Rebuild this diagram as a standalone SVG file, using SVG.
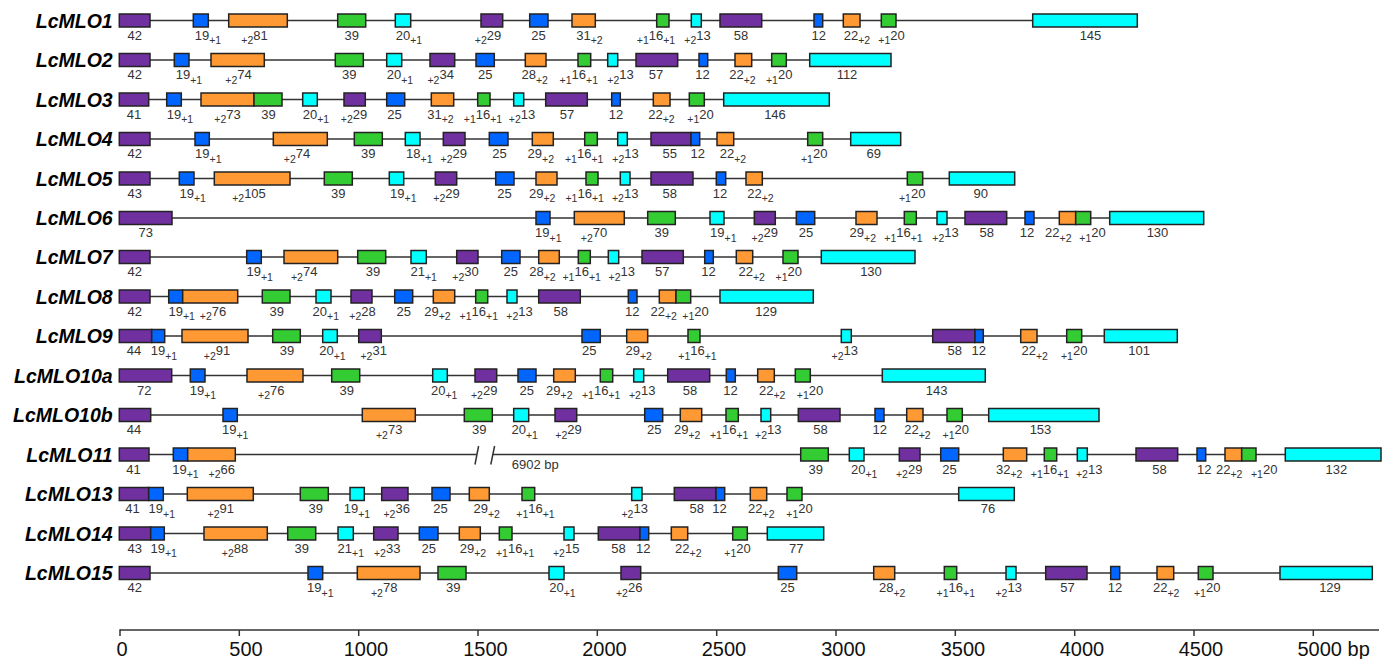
<svg xmlns="http://www.w3.org/2000/svg" width="1388" height="659" viewBox="0 0 1388 659">
<style>
text{font-family:"Liberation Sans",Arial,sans-serif}
.L text,text.t{font-size:13px;fill:#333;text-anchor:middle}
.L .n{font-style:italic;font-weight:bold;font-size:19.5px;text-anchor:end;fill:#000}
.s{font-size:10.5px}
rect{stroke:#222;stroke-width:1.5}
.p{fill:#7030A0}.b{fill:#0066FF}.o{fill:#FF9933}.g{fill:#33CC33}.c{fill:#00FFFF}
.ln line{stroke:#333;stroke-width:1.5}
.ax{font-size:20px;fill:#111;text-anchor:middle}
</style>
<rect width="1388" height="659" style="fill:#fff;stroke:none"/>
<g id="connectors" class="ln">
<line x1="119.3" y1="20.5" x2="1137.3" y2="20.5"/>
<line x1="119.3" y1="60" x2="891" y2="60"/>
<line x1="119.3" y1="99.5" x2="829.3" y2="99.5"/>
<line x1="119.3" y1="139" x2="900.7" y2="139"/>
<line x1="119.3" y1="178.5" x2="1014.7" y2="178.5"/>
<line x1="119.3" y1="218" x2="1203.7" y2="218"/>
<line x1="119.3" y1="257" x2="915" y2="257"/>
<line x1="119.3" y1="296.5" x2="813.3" y2="296.5"/>
<line x1="119.3" y1="336" x2="1177.3" y2="336"/>
<line x1="119.3" y1="375.5" x2="985.3" y2="375.5"/>
<line x1="119.3" y1="415" x2="1099" y2="415"/>
<line x1="119.3" y1="454.5" x2="476.6" y2="454.5"/>
<line x1="492.6" y1="454.5" x2="1381" y2="454.5"/>
<line x1="475" y1="464.5" x2="478.6" y2="446"/>
<line x1="490.8" y1="464.5" x2="494.6" y2="446"/>
<line x1="119.3" y1="494" x2="1014.3" y2="494"/>
<line x1="119.3" y1="533.5" x2="823.7" y2="533.5"/>
<line x1="119.3" y1="573" x2="1372.3" y2="573"/>
</g>

<g id="LcMLO1" class="L">
<text class="n" x="112.7" y="27.5">LcMLO1</text>
<rect class="p" x="119.3" y="14" width="30.7" height="13"/>
<rect class="b" x="193.3" y="14" width="15" height="13"/>
<rect class="o" x="228.7" y="14" width="58.6" height="13"/>
<rect class="g" x="337.7" y="14" width="28" height="13"/>
<rect class="c" x="395.3" y="14" width="15.4" height="13"/>
<rect class="p" x="481" y="14" width="21.7" height="13"/>
<rect class="b" x="529.7" y="14" width="18.3" height="13"/>
<rect class="o" x="572" y="14" width="23.3" height="13"/>
<rect class="g" x="656.7" y="14" width="12.3" height="13"/>
<rect class="c" x="691.3" y="14" width="10" height="13"/>
<rect class="p" x="720" y="14" width="41.7" height="13"/>
<rect class="b" x="814" y="14" width="8.7" height="13"/>
<rect class="o" x="843.3" y="14" width="16.7" height="13"/>
<rect class="g" x="881.3" y="14" width="14.7" height="13"/>
<rect class="c" x="1032.7" y="14" width="104.6" height="13"/>
<text x="134.7" y="39.5">42</text>
<text x="208" y="39.5">19<tspan class="s" dy="4.5">+1</tspan></text>
<text x="254.5" y="39.5"><tspan class="s" dy="4.5">+2</tspan><tspan dy="-4.5">81</tspan></text>
<text x="351.7" y="39.5">39</text>
<text x="409" y="39.5">20<tspan class="s" dy="4.5">+1</tspan></text>
<text x="488" y="39.5"><tspan class="s" dy="4.5">+2</tspan><tspan dy="-4.5">29</tspan></text>
<text x="538.5" y="39.5">25</text>
<text x="589.5" y="39.5">31<tspan class="s" dy="4.5">+2</tspan></text>
<text x="656" y="39.5"><tspan class="s" dy="4.5">+1</tspan><tspan dy="-4.5">16</tspan><tspan class="s" dy="4.5">+1</tspan></text>
<text x="697.5" y="39.5"><tspan class="s" dy="4.5">+2</tspan><tspan dy="-4.5">13</tspan></text>
<text x="741" y="39.5">58</text>
<text x="818.8" y="39.5">12</text>
<text x="857" y="39.5">22<tspan class="s" dy="4.5">+2</tspan></text>
<text x="891.5" y="39.5"><tspan class="s" dy="4.5">+1</tspan><tspan dy="-4.5">20</tspan></text>
<text x="1090.5" y="39.5">145</text>
</g>

<g id="LcMLO2" class="L">
<text class="n" x="112.7" y="67">LcMLO2</text>
<rect class="p" x="119.3" y="53.5" width="30.7" height="13"/>
<rect class="b" x="174.3" y="53.5" width="14.7" height="13"/>
<rect class="o" x="211" y="53.5" width="53.3" height="13"/>
<rect class="g" x="335.3" y="53.5" width="28" height="13"/>
<rect class="c" x="386.7" y="53.5" width="15" height="13"/>
<rect class="p" x="430" y="53.5" width="24.7" height="13"/>
<rect class="b" x="476" y="53.5" width="18.3" height="13"/>
<rect class="o" x="525.3" y="53.5" width="20.7" height="13"/>
<rect class="g" x="578" y="53.5" width="12.7" height="13"/>
<rect class="c" x="607.7" y="53.5" width="10" height="13"/>
<rect class="p" x="636" y="53.5" width="41.7" height="13"/>
<rect class="b" x="699" y="53.5" width="8.7" height="13"/>
<rect class="o" x="735" y="53.5" width="16.7" height="13"/>
<rect class="g" x="771.7" y="53.5" width="14.6" height="13"/>
<rect class="c" x="809.7" y="53.5" width="81.3" height="13"/>
<text x="134.7" y="79">42</text>
<text x="189" y="79">19<tspan class="s" dy="4.5">+1</tspan></text>
<text x="238.5" y="79"><tspan class="s" dy="4.5">+2</tspan><tspan dy="-4.5">74</tspan></text>
<text x="349.3" y="79">39</text>
<text x="400" y="79">20<tspan class="s" dy="4.5">+1</tspan></text>
<text x="440.7" y="79"><tspan class="s" dy="4.5">+2</tspan><tspan dy="-4.5">34</tspan></text>
<text x="485.3" y="79">25</text>
<text x="534.7" y="79">28<tspan class="s" dy="4.5">+2</tspan></text>
<text x="578.8" y="79"><tspan class="s" dy="4.5">+1</tspan><tspan dy="-4.5">16</tspan><tspan class="s" dy="4.5">+1</tspan></text>
<text x="620.5" y="79"><tspan class="s" dy="4.5">+2</tspan><tspan dy="-4.5">13</tspan></text>
<text x="656" y="79">57</text>
<text x="702.5" y="79">12</text>
<text x="742.5" y="79">22<tspan class="s" dy="4.5">+2</tspan></text>
<text x="779.2" y="79"><tspan class="s" dy="4.5">+1</tspan><tspan dy="-4.5">20</tspan></text>
<text x="847" y="79">112</text>
</g>

<g id="LcMLO3" class="L">
<text class="n" x="112.7" y="106.5">LcMLO3</text>
<rect class="p" x="119.3" y="93" width="29.4" height="13"/>
<rect class="b" x="166.7" y="93" width="14.6" height="13"/>
<rect class="o" x="201" y="93" width="53" height="13"/>
<rect class="g" x="254" y="93" width="28" height="13"/>
<rect class="c" x="302.7" y="93" width="14.6" height="13"/>
<rect class="p" x="344" y="93" width="21.3" height="13"/>
<rect class="b" x="386.7" y="93" width="18" height="13"/>
<rect class="o" x="431.3" y="93" width="22.4" height="13"/>
<rect class="g" x="477.7" y="93" width="12.3" height="13"/>
<rect class="c" x="513.7" y="93" width="10" height="13"/>
<rect class="p" x="545.7" y="93" width="41.6" height="13"/>
<rect class="b" x="611.7" y="93" width="8.6" height="13"/>
<rect class="o" x="653.3" y="93" width="16.7" height="13"/>
<rect class="g" x="689.3" y="93" width="15" height="13"/>
<rect class="c" x="723.7" y="93" width="105.6" height="13"/>
<text x="134" y="118.5">41</text>
<text x="180" y="118.5">19<tspan class="s" dy="4.5">+1</tspan></text>
<text x="227.5" y="118.5"><tspan class="s" dy="4.5">+2</tspan><tspan dy="-4.5">73</tspan></text>
<text x="268.5" y="118.5">39</text>
<text x="316" y="118.5">20<tspan class="s" dy="4.5">+1</tspan></text>
<text x="354" y="118.5"><tspan class="s" dy="4.5">+2</tspan><tspan dy="-4.5">29</tspan></text>
<text x="394.5" y="118.5">25</text>
<text x="440.5" y="118.5">31<tspan class="s" dy="4.5">+2</tspan></text>
<text x="483" y="118.5"><tspan class="s" dy="4.5">+1</tspan><tspan dy="-4.5">16</tspan><tspan class="s" dy="4.5">+1</tspan></text>
<text x="522" y="118.5"><tspan class="s" dy="4.5">+2</tspan><tspan dy="-4.5">13</tspan></text>
<text x="567" y="118.5">57</text>
<text x="616" y="118.5">12</text>
<text x="661.5" y="118.5">22<tspan class="s" dy="4.5">+2</tspan></text>
<text x="700.5" y="118.5"><tspan class="s" dy="4.5">+1</tspan><tspan dy="-4.5">20</tspan></text>
<text x="775" y="118.5">146</text>
</g>

<g id="LcMLO4" class="L">
<text class="n" x="112.7" y="146">LcMLO4</text>
<rect class="p" x="119.3" y="132.5" width="30.7" height="13"/>
<rect class="b" x="195" y="132.5" width="14.3" height="13"/>
<rect class="o" x="273.3" y="132.5" width="54" height="13"/>
<rect class="g" x="354.3" y="132.5" width="28" height="13"/>
<rect class="c" x="405.3" y="132.5" width="14.7" height="13"/>
<rect class="p" x="443.3" y="132.5" width="21.7" height="13"/>
<rect class="b" x="489.3" y="132.5" width="18.7" height="13"/>
<rect class="o" x="532.3" y="132.5" width="21" height="13"/>
<rect class="g" x="584.7" y="132.5" width="12.6" height="13"/>
<rect class="c" x="617.7" y="132.5" width="9.6" height="13"/>
<rect class="p" x="651" y="132.5" width="40" height="13"/>
<rect class="b" x="691" y="132.5" width="8.7" height="13"/>
<rect class="o" x="717" y="132.5" width="16.7" height="13"/>
<rect class="g" x="807.7" y="132.5" width="15" height="13"/>
<rect class="c" x="850.7" y="132.5" width="50" height="13"/>
<text x="134.7" y="158">42</text>
<text x="208.3" y="158">19<tspan class="s" dy="4.5">+1</tspan></text>
<text x="297" y="158"><tspan class="s" dy="4.5">+2</tspan><tspan dy="-4.5">74</tspan></text>
<text x="368.3" y="158">39</text>
<text x="419.3" y="158">18<tspan class="s" dy="4.5">+1</tspan></text>
<text x="453.8" y="158"><tspan class="s" dy="4.5">+2</tspan><tspan dy="-4.5">29</tspan></text>
<text x="499.5" y="158">25</text>
<text x="540.8" y="158">29<tspan class="s" dy="4.5">+2</tspan></text>
<text x="584.2" y="158"><tspan class="s" dy="4.5">+1</tspan><tspan dy="-4.5">16</tspan><tspan class="s" dy="4.5">+1</tspan></text>
<text x="625.5" y="158"><tspan class="s" dy="4.5">+2</tspan><tspan dy="-4.5">13</tspan></text>
<text x="669.8" y="158">55</text>
<text x="697.8" y="158">12</text>
<text x="733" y="158">22<tspan class="s" dy="4.5">+2</tspan></text>
<text x="814.2" y="158"><tspan class="s" dy="4.5">+1</tspan><tspan dy="-4.5">20</tspan></text>
<text x="873.7" y="158">69</text>
</g>

<g id="LcMLO5" class="L">
<text class="n" x="112.7" y="185.5">LcMLO5</text>
<rect class="p" x="119.3" y="172" width="30.7" height="13"/>
<rect class="b" x="179.3" y="172" width="14.7" height="13"/>
<rect class="o" x="214.3" y="172" width="75.7" height="13"/>
<rect class="g" x="324.3" y="172" width="28" height="13"/>
<rect class="c" x="389.3" y="172" width="14.4" height="13"/>
<rect class="p" x="435.3" y="172" width="21.4" height="13"/>
<rect class="b" x="495.7" y="172" width="18.3" height="13"/>
<rect class="o" x="536" y="172" width="21" height="13"/>
<rect class="g" x="586" y="172" width="12" height="13"/>
<rect class="c" x="620.3" y="172" width="9.7" height="13"/>
<rect class="p" x="651" y="172" width="42" height="13"/>
<rect class="b" x="716.3" y="172" width="9.4" height="13"/>
<rect class="o" x="746" y="172" width="16.3" height="13"/>
<rect class="g" x="907.3" y="172" width="15.4" height="13"/>
<rect class="c" x="949.3" y="172" width="65.4" height="13"/>
<text x="134.7" y="197.5">43</text>
<text x="192.7" y="197.5">19<tspan class="s" dy="4.5">+1</tspan></text>
<text x="249" y="197.5"><tspan class="s" dy="4.5">+2</tspan><tspan dy="-4.5">105</tspan></text>
<text x="338.3" y="197.5">39</text>
<text x="403.3" y="197.5">19<tspan class="s" dy="4.5">+1</tspan></text>
<text x="446.5" y="197.5"><tspan class="s" dy="4.5">+2</tspan><tspan dy="-4.5">29</tspan></text>
<text x="504.5" y="197.5">25</text>
<text x="542.2" y="197.5">29<tspan class="s" dy="4.5">+2</tspan></text>
<text x="584.7" y="197.5"><tspan class="s" dy="4.5">+1</tspan><tspan dy="-4.5">16</tspan><tspan class="s" dy="4.5">+1</tspan></text>
<text x="625.2" y="197.5"><tspan class="s" dy="4.5">+2</tspan><tspan dy="-4.5">13</tspan></text>
<text x="669.7" y="197.5">58</text>
<text x="720" y="197.5">12</text>
<text x="760.5" y="197.5">22<tspan class="s" dy="4.5">+2</tspan></text>
<text x="912.2" y="197.5"><tspan class="s" dy="4.5">+1</tspan><tspan dy="-4.5">20</tspan></text>
<text x="980.8" y="197.5">90</text>
</g>

<g id="LcMLO6" class="L">
<text class="n" x="112.7" y="225">LcMLO6</text>
<rect class="p" x="119.3" y="211.5" width="52.7" height="13"/>
<rect class="b" x="536" y="211.5" width="14" height="13"/>
<rect class="o" x="574.3" y="211.5" width="50" height="13"/>
<rect class="g" x="647.7" y="211.5" width="27.6" height="13"/>
<rect class="c" x="710" y="211.5" width="14" height="13"/>
<rect class="p" x="754.3" y="211.5" width="21" height="13"/>
<rect class="b" x="796.3" y="211.5" width="18.4" height="13"/>
<rect class="o" x="856" y="211.5" width="21" height="13"/>
<rect class="g" x="904.3" y="211.5" width="12" height="13"/>
<rect class="c" x="937" y="211.5" width="10" height="13"/>
<rect class="p" x="965" y="211.5" width="41.7" height="13"/>
<rect class="b" x="1025" y="211.5" width="9" height="13"/>
<rect class="o" x="1059.3" y="211.5" width="16.4" height="13"/>
<rect class="g" x="1075.7" y="211.5" width="15" height="13"/>
<rect class="c" x="1109.7" y="211.5" width="94" height="13"/>
<text x="145.7" y="237">73</text>
<text x="548.3" y="237">19<tspan class="s" dy="4.5">+1</tspan></text>
<text x="594" y="237"><tspan class="s" dy="4.5">+2</tspan><tspan dy="-4.5">70</tspan></text>
<text x="661.8" y="237">39</text>
<text x="723.3" y="237">19<tspan class="s" dy="4.5">+1</tspan></text>
<text x="764.8" y="237"><tspan class="s" dy="4.5">+2</tspan><tspan dy="-4.5">29</tspan></text>
<text x="806" y="237">25</text>
<text x="862.8" y="237">29<tspan class="s" dy="4.5">+2</tspan></text>
<text x="903.5" y="237"><tspan class="s" dy="4.5">+1</tspan><tspan dy="-4.5">16</tspan><tspan class="s" dy="4.5">+1</tspan></text>
<text x="945.5" y="237"><tspan class="s" dy="4.5">+2</tspan><tspan dy="-4.5">13</tspan></text>
<text x="986.7" y="237">58</text>
<text x="1027" y="237">12</text>
<text x="1058.3" y="237">22<tspan class="s" dy="4.5">+2</tspan></text>
<text x="1092.5" y="237"><tspan class="s" dy="4.5">+1</tspan><tspan dy="-4.5">20</tspan></text>
<text x="1157.5" y="237">130</text>
</g>

<g id="LcMLO7" class="L">
<text class="n" x="112.7" y="264">LcMLO7</text>
<rect class="p" x="119.3" y="250.5" width="30.7" height="13"/>
<rect class="b" x="246.7" y="250.5" width="14.6" height="13"/>
<rect class="o" x="284" y="250.5" width="53.7" height="13"/>
<rect class="g" x="357.7" y="250.5" width="28" height="13"/>
<rect class="c" x="411" y="250.5" width="15.3" height="13"/>
<rect class="p" x="456.7" y="250.5" width="21.3" height="13"/>
<rect class="b" x="501.7" y="250.5" width="18.3" height="13"/>
<rect class="o" x="538.7" y="250.5" width="20.6" height="13"/>
<rect class="g" x="578.3" y="250.5" width="12" height="13"/>
<rect class="c" x="608.3" y="250.5" width="10.4" height="13"/>
<rect class="p" x="642" y="250.5" width="41.3" height="13"/>
<rect class="b" x="704.7" y="250.5" width="8.6" height="13"/>
<rect class="o" x="736.3" y="250.5" width="16.4" height="13"/>
<rect class="g" x="783" y="250.5" width="15" height="13"/>
<rect class="c" x="821.3" y="250.5" width="93.7" height="13"/>
<text x="134.7" y="276">42</text>
<text x="259.7" y="276">19<tspan class="s" dy="4.5">+1</tspan></text>
<text x="304.2" y="276"><tspan class="s" dy="4.5">+2</tspan><tspan dy="-4.5">74</tspan></text>
<text x="373" y="276">39</text>
<text x="423.7" y="276">21<tspan class="s" dy="4.5">+1</tspan></text>
<text x="465.5" y="276"><tspan class="s" dy="4.5">+2</tspan><tspan dy="-4.5">30</tspan></text>
<text x="510.8" y="276">25</text>
<text x="542.5" y="276">28<tspan class="s" dy="4.5">+2</tspan></text>
<text x="581.7" y="276"><tspan class="s" dy="4.5">+1</tspan><tspan dy="-4.5">16</tspan><tspan class="s" dy="4.5">+1</tspan></text>
<text x="621.8" y="276"><tspan class="s" dy="4.5">+2</tspan><tspan dy="-4.5">13</tspan></text>
<text x="662.2" y="276">57</text>
<text x="708.5" y="276">12</text>
<text x="751.7" y="276">22<tspan class="s" dy="4.5">+2</tspan></text>
<text x="788.8" y="276"><tspan class="s" dy="4.5">+1</tspan><tspan dy="-4.5">20</tspan></text>
<text x="871" y="276">130</text>
</g>

<g id="LcMLO8" class="L">
<text class="n" x="112.7" y="303.5">LcMLO8</text>
<rect class="p" x="119.3" y="290" width="30.7" height="13"/>
<rect class="b" x="168.7" y="290" width="14" height="13"/>
<rect class="o" x="182.7" y="290" width="55" height="13"/>
<rect class="g" x="262.3" y="290" width="27.7" height="13"/>
<rect class="c" x="316" y="290" width="15" height="13"/>
<rect class="p" x="351" y="290" width="21" height="13"/>
<rect class="b" x="394.7" y="290" width="18" height="13"/>
<rect class="o" x="433.3" y="290" width="21.4" height="13"/>
<rect class="g" x="475.7" y="290" width="12" height="13"/>
<rect class="c" x="507" y="290" width="10" height="13"/>
<rect class="p" x="538.7" y="290" width="41.6" height="13"/>
<rect class="b" x="628.3" y="290" width="8.7" height="13"/>
<rect class="o" x="659.3" y="290" width="16.7" height="13"/>
<rect class="g" x="676" y="290" width="14.7" height="13"/>
<rect class="c" x="720" y="290" width="93.3" height="13"/>
<text x="134.7" y="315.5">42</text>
<text x="181.7" y="315.5">19<tspan class="s" dy="4.5">+1</tspan></text>
<text x="213" y="315.5"><tspan class="s" dy="4.5">+2</tspan><tspan dy="-4.5">76</tspan></text>
<text x="276.7" y="315.5">39</text>
<text x="325.8" y="315.5">20<tspan class="s" dy="4.5">+1</tspan></text>
<text x="362.5" y="315.5"><tspan class="s" dy="4.5">+2</tspan><tspan dy="-4.5">28</tspan></text>
<text x="403.8" y="315.5">25</text>
<text x="437.5" y="315.5">29<tspan class="s" dy="4.5">+2</tspan></text>
<text x="478.8" y="315.5"><tspan class="s" dy="4.5">+1</tspan><tspan dy="-4.5">16</tspan><tspan class="s" dy="4.5">+1</tspan></text>
<text x="519.5" y="315.5"><tspan class="s" dy="4.5">+2</tspan><tspan dy="-4.5">13</tspan></text>
<text x="560.8" y="315.5">58</text>
<text x="632.2" y="315.5">12</text>
<text x="663.7" y="315.5">22<tspan class="s" dy="4.5">+2</tspan></text>
<text x="695.5" y="315.5"><tspan class="s" dy="4.5">+1</tspan><tspan dy="-4.5">20</tspan></text>
<text x="766.2" y="315.5">129</text>
</g>

<g id="LcMLO9" class="L">
<text class="n" x="112.7" y="343">LcMLO9</text>
<rect class="p" x="119.3" y="329.5" width="32.4" height="13"/>
<rect class="b" x="151.7" y="329.5" width="13" height="13"/>
<rect class="o" x="182" y="329.5" width="66" height="13"/>
<rect class="g" x="272.7" y="329.5" width="27.6" height="13"/>
<rect class="c" x="322.7" y="329.5" width="14.6" height="13"/>
<rect class="p" x="358.7" y="329.5" width="22.6" height="13"/>
<rect class="b" x="582" y="329.5" width="18.3" height="13"/>
<rect class="o" x="626.7" y="329.5" width="21" height="13"/>
<rect class="g" x="688" y="329.5" width="12" height="13"/>
<rect class="c" x="841.3" y="329.5" width="10" height="13"/>
<rect class="p" x="932.7" y="329.5" width="42.3" height="13"/>
<rect class="b" x="975" y="329.5" width="8.3" height="13"/>
<rect class="o" x="1020.7" y="329.5" width="16.3" height="13"/>
<rect class="g" x="1066.7" y="329.5" width="15" height="13"/>
<rect class="c" x="1104.3" y="329.5" width="73" height="13"/>
<text x="134" y="355">44</text>
<text x="164" y="355">19<tspan class="s" dy="4.5">+1</tspan></text>
<text x="217" y="355"><tspan class="s" dy="4.5">+2</tspan><tspan dy="-4.5">91</tspan></text>
<text x="287" y="355">39</text>
<text x="332.5" y="355">20<tspan class="s" dy="4.5">+1</tspan></text>
<text x="373.7" y="355"><tspan class="s" dy="4.5">+2</tspan><tspan dy="-4.5">31</tspan></text>
<text x="589.2" y="355">25</text>
<text x="638.7" y="355">29<tspan class="s" dy="4.5">+2</tspan></text>
<text x="697.5" y="355"><tspan class="s" dy="4.5">+1</tspan><tspan dy="-4.5">16</tspan><tspan class="s" dy="4.5">+1</tspan></text>
<text x="844.8" y="355"><tspan class="s" dy="4.5">+2</tspan><tspan dy="-4.5">13</tspan></text>
<text x="954.7" y="355">58</text>
<text x="978.8" y="355">12</text>
<text x="1034.7" y="355">22<tspan class="s" dy="4.5">+2</tspan></text>
<text x="1074.2" y="355"><tspan class="s" dy="4.5">+1</tspan><tspan dy="-4.5">20</tspan></text>
<text x="1139.2" y="355">101</text>
</g>

<g id="LcMLO10a" class="L">
<text class="n" x="112.7" y="382.5">LcMLO10a</text>
<rect class="p" x="119.3" y="369" width="52.4" height="13"/>
<rect class="b" x="190.3" y="369" width="14.7" height="13"/>
<rect class="o" x="247" y="369" width="56" height="13"/>
<rect class="g" x="331.7" y="369" width="28" height="13"/>
<rect class="c" x="432.7" y="369" width="14.6" height="13"/>
<rect class="p" x="475" y="369" width="21.7" height="13"/>
<rect class="b" x="518" y="369" width="18" height="13"/>
<rect class="o" x="553.7" y="369" width="21.6" height="13"/>
<rect class="g" x="600.3" y="369" width="12.4" height="13"/>
<rect class="c" x="633.7" y="369" width="10" height="13"/>
<rect class="p" x="667.7" y="369" width="42" height="13"/>
<rect class="b" x="726.3" y="369" width="9" height="13"/>
<rect class="o" x="757.7" y="369" width="16.6" height="13"/>
<rect class="g" x="795.3" y="369" width="15" height="13"/>
<rect class="c" x="882.3" y="369" width="103" height="13"/>
<text x="144.2" y="394.5">72</text>
<text x="203" y="394.5">19<tspan class="s" dy="4.5">+1</tspan></text>
<text x="271.3" y="394.5"><tspan class="s" dy="4.5">+2</tspan><tspan dy="-4.5">76</tspan></text>
<text x="346.8" y="394.5">39</text>
<text x="444.2" y="394.5">20<tspan class="s" dy="4.5">+1</tspan></text>
<text x="484.2" y="394.5"><tspan class="s" dy="4.5">+2</tspan><tspan dy="-4.5">29</tspan></text>
<text x="526.7" y="394.5">25</text>
<text x="559.3" y="394.5">29<tspan class="s" dy="4.5">+2</tspan></text>
<text x="601.2" y="394.5"><tspan class="s" dy="4.5">+1</tspan><tspan dy="-4.5">16</tspan><tspan class="s" dy="4.5">+1</tspan></text>
<text x="642.2" y="394.5"><tspan class="s" dy="4.5">+2</tspan><tspan dy="-4.5">13</tspan></text>
<text x="690" y="394.5">58</text>
<text x="730.5" y="394.5">12</text>
<text x="772.2" y="394.5">22<tspan class="s" dy="4.5">+2</tspan></text>
<text x="810" y="394.5"><tspan class="s" dy="4.5">+1</tspan><tspan dy="-4.5">20</tspan></text>
<text x="936.7" y="394.5">143</text>
</g>

<g id="LcMLO10b" class="L">
<text class="n" x="112.7" y="422">LcMLO10b</text>
<rect class="p" x="119.3" y="408.5" width="31.4" height="13"/>
<rect class="b" x="223" y="408.5" width="14.3" height="13"/>
<rect class="o" x="362.3" y="408.5" width="53" height="13"/>
<rect class="g" x="464.3" y="408.5" width="28" height="13"/>
<rect class="c" x="513.7" y="408.5" width="15" height="13"/>
<rect class="p" x="555" y="408.5" width="21.7" height="13"/>
<rect class="b" x="644.7" y="408.5" width="18" height="13"/>
<rect class="o" x="680.3" y="408.5" width="21.4" height="13"/>
<rect class="g" x="726" y="408.5" width="12.3" height="13"/>
<rect class="c" x="761" y="408.5" width="9.7" height="13"/>
<rect class="p" x="798.3" y="408.5" width="41.7" height="13"/>
<rect class="b" x="875" y="408.5" width="9" height="13"/>
<rect class="o" x="906.7" y="408.5" width="16.3" height="13"/>
<rect class="g" x="947" y="408.5" width="15.3" height="13"/>
<rect class="c" x="988.7" y="408.5" width="110.3" height="13"/>
<text x="134" y="434">44</text>
<text x="235.2" y="434">19<tspan class="s" dy="4.5">+1</tspan></text>
<text x="389.2" y="434"><tspan class="s" dy="4.5">+2</tspan><tspan dy="-4.5">73</tspan></text>
<text x="479.2" y="434">39</text>
<text x="524.7" y="434">20<tspan class="s" dy="4.5">+1</tspan></text>
<text x="568.5" y="434"><tspan class="s" dy="4.5">+2</tspan><tspan dy="-4.5">29</tspan></text>
<text x="654.2" y="434">25</text>
<text x="687.2" y="434">29<tspan class="s" dy="4.5">+2</tspan></text>
<text x="729.2" y="434"><tspan class="s" dy="4.5">+1</tspan><tspan dy="-4.5">16</tspan><tspan class="s" dy="4.5">+1</tspan></text>
<text x="768.3" y="434"><tspan class="s" dy="4.5">+2</tspan><tspan dy="-4.5">13</tspan></text>
<text x="820.5" y="434">58</text>
<text x="879.7" y="434">12</text>
<text x="917.5" y="434">22<tspan class="s" dy="4.5">+2</tspan></text>
<text x="955.8" y="434"><tspan class="s" dy="4.5">+1</tspan><tspan dy="-4.5">20</tspan></text>
<text x="1040.5" y="434">153</text>
</g>

<g id="LcMLO11" class="L">
<text class="n" x="112.7" y="461.5">LcMLO11</text>
<rect class="p" x="119.3" y="448" width="29.7" height="13"/>
<rect class="b" x="173.3" y="448" width="14.4" height="13"/>
<rect class="o" x="187.7" y="448" width="47.6" height="13"/>
<rect class="g" x="800.7" y="448" width="27.6" height="13"/>
<rect class="c" x="849.3" y="448" width="14.7" height="13"/>
<rect class="p" x="899.3" y="448" width="20.7" height="13"/>
<rect class="b" x="940.7" y="448" width="18" height="13"/>
<rect class="o" x="1003.3" y="448" width="23.4" height="13"/>
<rect class="g" x="1044.3" y="448" width="12.4" height="13"/>
<rect class="c" x="1077.3" y="448" width="10" height="13"/>
<rect class="p" x="1136" y="448" width="41.7" height="13"/>
<rect class="b" x="1197" y="448" width="8.7" height="13"/>
<rect class="o" x="1225" y="448" width="16.7" height="13"/>
<rect class="g" x="1241.7" y="448" width="14.3" height="13"/>
<rect class="c" x="1285.3" y="448" width="95.7" height="13"/>
<text x="133.5" y="473.5">41</text>
<text x="185.5" y="473.5">19<tspan class="s" dy="4.5">+1</tspan></text>
<text x="221.8" y="473.5"><tspan class="s" dy="4.5">+2</tspan><tspan dy="-4.5">66</tspan></text>
<text x="511.7" y="468.5" style="text-anchor:start">6902 bp</text>
<text x="815.8" y="473.5">39</text>
<text x="864.2" y="473.5">20<tspan class="s" dy="4.5">+1</tspan></text>
<text x="909.2" y="473.5"><tspan class="s" dy="4.5">+2</tspan><tspan dy="-4.5">29</tspan></text>
<text x="949.5" y="473.5">25</text>
<text x="1009.2" y="473.5">32<tspan class="s" dy="4.5">+2</tspan></text>
<text x="1050" y="473.5"><tspan class="s" dy="4.5">+1</tspan><tspan dy="-4.5">16</tspan><tspan class="s" dy="4.5">+1</tspan></text>
<text x="1089.2" y="473.5"><tspan class="s" dy="4.5">+2</tspan><tspan dy="-4.5">13</tspan></text>
<text x="1159.5" y="473.5">58</text>
<text x="1204.3" y="473.5">12</text>
<text x="1229.2" y="473.5">22<tspan class="s" dy="4.5">+2</tspan></text>
<text x="1264.2" y="473.5"><tspan class="s" dy="4.5">+1</tspan><tspan dy="-4.5">20</tspan></text>
<text x="1336.3" y="473.5">132</text>
</g>

<g id="LcMLO13" class="L">
<text class="n" x="112.7" y="501">LcMLO13</text>
<rect class="p" x="119.3" y="487.5" width="29.4" height="13"/>
<rect class="b" x="148.7" y="487.5" width="14.6" height="13"/>
<rect class="o" x="187.3" y="487.5" width="66" height="13"/>
<rect class="g" x="300.3" y="487.5" width="28" height="13"/>
<rect class="c" x="350" y="487.5" width="14.3" height="13"/>
<rect class="p" x="381.7" y="487.5" width="26.3" height="13"/>
<rect class="b" x="432" y="487.5" width="18" height="13"/>
<rect class="o" x="469.3" y="487.5" width="20" height="13"/>
<rect class="g" x="522" y="487.5" width="12.7" height="13"/>
<rect class="c" x="631.7" y="487.5" width="10.3" height="13"/>
<rect class="p" x="674.3" y="487.5" width="41.7" height="13"/>
<rect class="b" x="716" y="487.5" width="8.7" height="13"/>
<rect class="o" x="750.3" y="487.5" width="16.4" height="13"/>
<rect class="g" x="787" y="487.5" width="15" height="13"/>
<rect class="c" x="958.7" y="487.5" width="55.6" height="13"/>
<text x="132.5" y="513">41</text>
<text x="161.8" y="513">19<tspan class="s" dy="4.5">+1</tspan></text>
<text x="220.8" y="513"><tspan class="s" dy="4.5">+2</tspan><tspan dy="-4.5">91</tspan></text>
<text x="315.8" y="513">39</text>
<text x="357" y="513">19<tspan class="s" dy="4.5">+1</tspan></text>
<text x="396.7" y="513"><tspan class="s" dy="4.5">+2</tspan><tspan dy="-4.5">36</tspan></text>
<text x="440.5" y="513">25</text>
<text x="486.7" y="513">29<tspan class="s" dy="4.5">+2</tspan></text>
<text x="535.5" y="513"><tspan class="s" dy="4.5">+1</tspan><tspan dy="-4.5">16</tspan><tspan class="s" dy="4.5">+1</tspan></text>
<text x="634.7" y="513"><tspan class="s" dy="4.5">+2</tspan><tspan dy="-4.5">13</tspan></text>
<text x="696.7" y="513">58</text>
<text x="719.5" y="513">12</text>
<text x="761.3" y="513">22<tspan class="s" dy="4.5">+2</tspan></text>
<text x="799.5" y="513"><tspan class="s" dy="4.5">+1</tspan><tspan dy="-4.5">20</tspan></text>
<text x="988" y="513">76</text>
</g>

<g id="LcMLO14" class="L">
<text class="n" x="112.7" y="540.5">LcMLO14</text>
<rect class="p" x="119.3" y="527" width="31.4" height="13"/>
<rect class="b" x="150.7" y="527" width="13.6" height="13"/>
<rect class="o" x="204" y="527" width="63.3" height="13"/>
<rect class="g" x="287.7" y="527" width="28" height="13"/>
<rect class="c" x="338" y="527" width="15.3" height="13"/>
<rect class="p" x="373.7" y="527" width="24.3" height="13"/>
<rect class="b" x="419.3" y="527" width="18.7" height="13"/>
<rect class="o" x="459.3" y="527" width="21" height="13"/>
<rect class="g" x="499.3" y="527" width="12.7" height="13"/>
<rect class="c" x="564" y="527" width="10" height="13"/>
<rect class="p" x="598.3" y="527" width="41.7" height="13"/>
<rect class="b" x="640" y="527" width="8.7" height="13"/>
<rect class="o" x="671.3" y="527" width="16.4" height="13"/>
<rect class="g" x="732.7" y="527" width="14.6" height="13"/>
<rect class="c" x="767.3" y="527" width="56.4" height="13"/>
<text x="134.7" y="552.5">43</text>
<text x="163.7" y="552.5">19<tspan class="s" dy="4.5">+1</tspan></text>
<text x="235" y="552.5"><tspan class="s" dy="4.5">+2</tspan><tspan dy="-4.5">88</tspan></text>
<text x="301.8" y="552.5">39</text>
<text x="350.8" y="552.5">21<tspan class="s" dy="4.5">+1</tspan></text>
<text x="387.2" y="552.5"><tspan class="s" dy="4.5">+2</tspan><tspan dy="-4.5">33</tspan></text>
<text x="428.7" y="552.5">25</text>
<text x="473" y="552.5">29<tspan class="s" dy="4.5">+2</tspan></text>
<text x="515.2" y="552.5"><tspan class="s" dy="4.5">+1</tspan><tspan dy="-4.5">16</tspan><tspan class="s" dy="4.5">+1</tspan></text>
<text x="566.2" y="552.5"><tspan class="s" dy="4.5">+2</tspan><tspan dy="-4.5">15</tspan></text>
<text x="618.5" y="552.5">58</text>
<text x="643.3" y="552.5">12</text>
<text x="688.3" y="552.5">22<tspan class="s" dy="4.5">+2</tspan></text>
<text x="737.5" y="552.5"><tspan class="s" dy="4.5">+1</tspan><tspan dy="-4.5">20</tspan></text>
<text x="796.3" y="552.5">77</text>
</g>

<g id="LcMLO15" class="L">
<text class="n" x="112.7" y="580">LcMLO15</text>
<rect class="p" x="119.3" y="566.5" width="30.7" height="13"/>
<rect class="b" x="308" y="566.5" width="14.7" height="13"/>
<rect class="o" x="357.3" y="566.5" width="62.7" height="13"/>
<rect class="g" x="438" y="566.5" width="28" height="13"/>
<rect class="c" x="549" y="566.5" width="15" height="13"/>
<rect class="p" x="621" y="566.5" width="19.7" height="13"/>
<rect class="b" x="778.3" y="566.5" width="18.4" height="13"/>
<rect class="o" x="873.7" y="566.5" width="21" height="13"/>
<rect class="g" x="944.3" y="566.5" width="12.4" height="13"/>
<rect class="c" x="1006" y="566.5" width="10" height="13"/>
<rect class="p" x="1045.7" y="566.5" width="41.3" height="13"/>
<rect class="b" x="1110.7" y="566.5" width="9" height="13"/>
<rect class="o" x="1157" y="566.5" width="16.7" height="13"/>
<rect class="g" x="1198.3" y="566.5" width="14.7" height="13"/>
<rect class="c" x="1280" y="566.5" width="92.3" height="13"/>
<text x="134.7" y="592">42</text>
<text x="320.3" y="592">19<tspan class="s" dy="4.5">+1</tspan></text>
<text x="384.2" y="592"><tspan class="s" dy="4.5">+2</tspan><tspan dy="-4.5">78</tspan></text>
<text x="453.3" y="592">39</text>
<text x="562.5" y="592">20<tspan class="s" dy="4.5">+1</tspan></text>
<text x="629.2" y="592"><tspan class="s" dy="4.5">+2</tspan><tspan dy="-4.5">26</tspan></text>
<text x="787.5" y="592">25</text>
<text x="892.2" y="592">28<tspan class="s" dy="4.5">+2</tspan></text>
<text x="955.8" y="592"><tspan class="s" dy="4.5">+1</tspan><tspan dy="-4.5">16</tspan><tspan class="s" dy="4.5">+1</tspan></text>
<text x="1008.7" y="592"><tspan class="s" dy="4.5">+2</tspan><tspan dy="-4.5">13</tspan></text>
<text x="1067.5" y="592">57</text>
<text x="1115" y="592">12</text>
<text x="1166.2" y="592">22<tspan class="s" dy="4.5">+2</tspan></text>
<text x="1207.2" y="592"><tspan class="s" dy="4.5">+1</tspan><tspan dy="-4.5">20</tspan></text>
<text x="1330" y="592">129</text>
</g>

<g id="axis">
<g class="ln">
<line x1="120" y1="630" x2="1379" y2="630"/>
<line x1="120" y1="629.3" x2="120" y2="636"/>
<line x1="239.3" y1="630" x2="239.3" y2="636"/>
<line x1="358.7" y1="630" x2="358.7" y2="636"/>
<line x1="478" y1="630" x2="478" y2="636"/>
<line x1="597.3" y1="630" x2="597.3" y2="636"/>
<line x1="716.7" y1="630" x2="716.7" y2="636"/>
<line x1="836" y1="630" x2="836" y2="636"/>
<line x1="955.3" y1="630" x2="955.3" y2="636"/>
<line x1="1074.7" y1="630" x2="1074.7" y2="636"/>
<line x1="1194" y1="630" x2="1194" y2="636"/>
<line x1="1313.3" y1="630" x2="1313.3" y2="636"/>
</g>
<text class="ax" x="122" y="656">0</text>
<text class="ax" x="246" y="656">500</text>
<text class="ax" x="366" y="656">1000</text>
<text class="ax" x="485.5" y="656">1500</text>
<text class="ax" x="604.5" y="656">2000</text>
<text class="ax" x="724" y="656">2500</text>
<text class="ax" x="843.5" y="656">3000</text>
<text class="ax" x="963" y="656">3500</text>
<text class="ax" x="1082" y="656">4000</text>
<text class="ax" x="1201" y="656">4500</text>
<text class="ax" x="1297.5" y="656" style="text-anchor:start">5000 bp</text>
</g>
</svg>
